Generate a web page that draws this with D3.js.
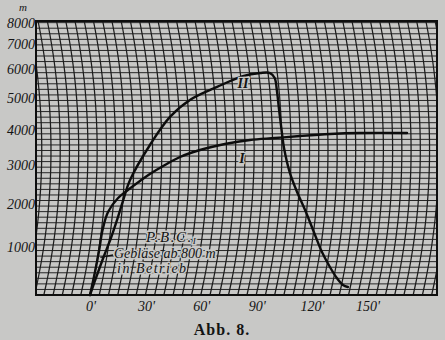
<!DOCTYPE html>
<html><head><meta charset="utf-8">
<script src="https://cdn.jsdelivr.net/npm/d3@7"></script>
<style>
html,body{margin:0;padding:0;background:#c8c8c6;}
svg{display:block;}
text{font-family:"Liberation Serif","DejaVu Serif",serif;fill:#141414;}
</style></head>
<body>
<svg id="chart" width="445" height="340"></svg>
<script>
// ---- data (time in minutes, altitude in metres) ----
const yTickValues = [1000, 2000, 3000, 4000, 5000, 6000, 7000, 8000];
const xTickValues = [0, 30, 60, 90, 120, 150];
const curveI_t = [0, 0.1, 0.3, 0.6, 2.5, 7.3, 12.3, 18.6, 23.8, 31.8, 39.9, 50.7, 64.2, 77.8, 91.4, 104.9, 121.2, 137.4, 162.9];
const curveI_h = [0, 512, 940, 1387, 1807, 2147, 2346, 2576, 2758, 2998, 3214, 3408, 3577, 3693, 3750, 3809, 3868, 3897, 3897];
const curveII_t = [0, 1.5, 3.4, 5.7, 7.8, 9.7, 13.2, 23.6, 34.9, 46.3, 61.6, 76.2, 85.7, 91.1, 93.3, 93.8, 94.2, 95.2, 96.2, 99.6, 104.0, 109.1, 116.0, 121.1, 126.8, 131.7, 135.8, 138.7];
const curveII_h = [0, 407, 810, 1206, 1618, 2000, 2601, 3550, 4385, 4927, 5367, 5753, 5862, 5862, 5682, 5263, 4603, 3897, 3464, 2785, 2296, 1855, 1274, 896, 575, 345, 202, 161];

const svg = d3.select("#chart");
const L = 36, R = 437, T = 21, B = 295;
const BG = "#c8c8c6";

// barograph paper: altitude axis is linear in air pressure
const pressure = h => Math.pow(1 - 2.25577e-5 * h, 5.25588);
const pScale = d3.scaleLinear().domain([1, pressure(8000)]).range([B, T]);
const yAlt = h => pScale(pressure(h));
const xScale = d3.scaleLinear().domain([0, 150]).range([90, 367]);

// time lines are arcs of the pen arm
const ARC_R = 650, ARC_YC = 150;
const off = y => ARC_R - Math.sqrt(ARC_R * ARC_R - (y - ARC_YC) * (y - ARC_YC));
const xAt = (t, y) => xScale(t) + off(B) - off(y);

svg.append("defs").append("clipPath").attr("id", "plotclip")
  .append("rect").attr("x", L).attr("y", T).attr("width", R - L).attr("height", B - T);

const grid = svg.append("g").attr("clip-path", "url(#plotclip)");

// horizontal pressure lines every 10 mmHg
const mmLines = d3.range(760, 260, -10);
grid.selectAll("line.h").data(mmLines).join("line")
  .attr("x1", L).attr("x2", R)
  .attr("y1", d => pScale(d / 760)).attr("y2", d => pScale(d / 760))
  .attr("stroke", "#252525").attr("stroke-width", 1.0);

// vertical arc lines every 5 minutes
const arcTimes = d3.range(-60, 205, 5);
const ys = d3.range(T - 2, B + 3, 2);
const arcLine = d3.line().x(d => d[0]).y(d => d[1]);
grid.selectAll("path.v").data(arcTimes).join("path")
  .attr("d", t => arcLine(ys.map(y => [xAt(t, y), y])))
  .attr("fill", "none").attr("stroke", "#1c1c1c").attr("stroke-width", 1.25);

// frame
svg.append("rect").attr("x", L).attr("y", T).attr("width", R - L).attr("height", B - T)
  .attr("fill", "none").attr("stroke", "#0e0e0e").attr("stroke-width", 2);

// annotation (drawn over grid with a paper-coloured halo)
const ann = svg.append("g").attr("font-size", 14).attr("font-style", "italic")
  .attr("stroke", BG).attr("stroke-width", 3).attr("paint-order", "stroke");
ann.append("text").attr("x", 146).attr("y", 242).attr("font-size", 15).attr("letter-spacing", 1.5).text("P.B.C.")
  .append("tspan").attr("font-size", 9).attr("dy", 2).text("I");
ann.append("text").attr("x", 114).attr("y", 258).text("Gebläse ab 800 m");
ann.append("text").attr("x", 117).attr("y", 273).attr("letter-spacing", 1.5).text("in Betrieb");
svg.append("line").attr("x1", xAt(1.5, yAlt(800))).attr("y1", yAlt(800) + 1)
  .attr("x2", 113).attr("y2", 255).attr("stroke", "#111").attr("stroke-width", 1.3);

// curves
const mk = (ts, hs) => ts.map((t, i) => ({ t: t, h: hs[i] }));
const line = d3.line()
  .x(d => xAt(d.t, yAlt(d.h))).y(d => yAlt(d.h))
  .curve(d3.curveCatmullRom.alpha(0.5));
[mk(curveI_t, curveI_h), mk(curveII_t, curveII_h)].forEach(data => {
  svg.append("path").attr("d", line(data))
    .attr("fill", "none").attr("stroke", "#0c0c0c").attr("stroke-width", 2.4)
    .attr("stroke-linejoin", "round").attr("stroke-linecap", "round");
});

// axis labels
svg.selectAll("text.yt").data(yTickValues).join("text")
  .attr("x", 35).attr("y", d => yAlt(d) + (d === 8000 ? 7 : 5))
  .attr("text-anchor", "end").attr("font-size", 14).attr("font-style", "italic")
  .text(d => d);
svg.append("text").attr("x", 23).attr("y", 11).attr("text-anchor", "middle")
  .attr("font-size", 11).attr("font-style", "italic").text("m");
svg.selectAll("text.xt").data(xTickValues).join("text")
  .attr("x", d => xScale(d) + 1).attr("y", 311)
  .attr("text-anchor", "middle").attr("font-size", 14).attr("font-style", "italic")
  .text(d => d + "'");

// curve labels
const lab = svg.append("g").attr("font-size", 14).attr("font-style", "italic").attr("font-weight", "bold")
  .attr("text-anchor", "middle").attr("stroke", BG).attr("stroke-width", 2.5).attr("paint-order", "stroke");
lab.append("text").attr("x", 243).attr("y", 88).text("II");
lab.append("text").attr("x", 242).attr("y", 163).text("I");

// caption
svg.append("text").attr("x", 222).attr("y", 335).attr("text-anchor", "middle")
  .attr("font-size", 16).attr("font-weight", "bold").attr("letter-spacing", 1)
  .text("Abb. 8.");
</script>
</body></html>
